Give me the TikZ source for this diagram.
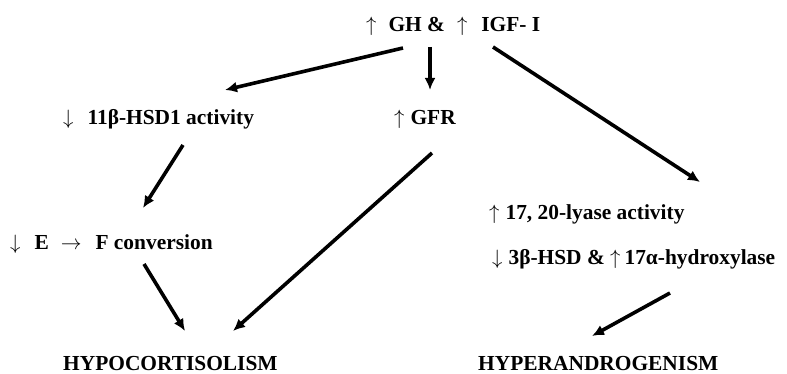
\documentclass[tikz,border=0pt]{standalone}
\usepackage{fontspec}
\setmainfont{Liberation Serif}
\usetikzlibrary{arrows.meta}
\newcommand{\up}{$\uparrow$}
\newcommand{\dn}{$\downarrow$}

\begin{document}
\begin{tikzpicture}[x=1pt,y=-1pt,
	lbl/.style={anchor=base west,inner sep=0pt,font=\fontsize{21.4}{25}\selectfont\bfseries},
	flow/.style={line width=3.6pt,-{Latex[length=12pt,width=11pt]}}]
	\useasboundingbox (0,0) rectangle (787,374);
	\node[lbl] (gh) at (366,32) {\up\hspace{12pt}GH \&\hspace{12pt}\up\hspace{14pt}IGF- I};
	\node[lbl] (hsd) at (63,125) {\dn\hspace{14pt}11β-HSD1 activity};
	\node[lbl] (gfr) at (394,125) {\up\hspace{6pt}GFR};
	\node[lbl] (conv) at (10,250) {\dn\hspace{14pt}E\hspace{12pt}$\rightarrow$\hspace{14pt}F conversion};
	\node[lbl] (hypo) at (63,370) {HYPOCORTISOLISM};
	\node[lbl] (lyase) at (489,220) {\up\hspace{6pt}17, 20-lyase activity};
	\node[lbl] (hydrox) at (492,265) {\dn\hspace{6pt}3β-HSD \& \up\hspace{4pt}17α-hydroxylase};
	\node[lbl] (hyper) at (478,370) {HYPERANDROGENISM};
	\draw[flow] ([shift={(37,16)}]gh.base west) -- ([shift={(162,-35)}]hsd.base west);
	\draw[flow] ([shift={(64,15)}]gh.base west) -- ([shift={(36,-35)}]gfr.base west);
	\draw[flow] ([shift={(127,15)}]gh.base west) -- ([shift={(211,-38)}]lyase.base west);
	\draw[flow] ([shift={(120,20)}]hsd.base west) -- ([shift={(133,-42)}]conv.base west);
	\draw[flow] ([shift={(134,14)}]conv.base west) -- ([shift={(122,-39)}]hypo.base west);
	\draw[flow] ([shift={(38,28)}]gfr.base west) -- ([shift={(170,-39)}]hypo.base west);
	\draw[flow] ([shift={(178,28)}]hydrox.base west) -- ([shift={(114,-34)}]hyper.base west);
\end{tikzpicture}
\end{document}
